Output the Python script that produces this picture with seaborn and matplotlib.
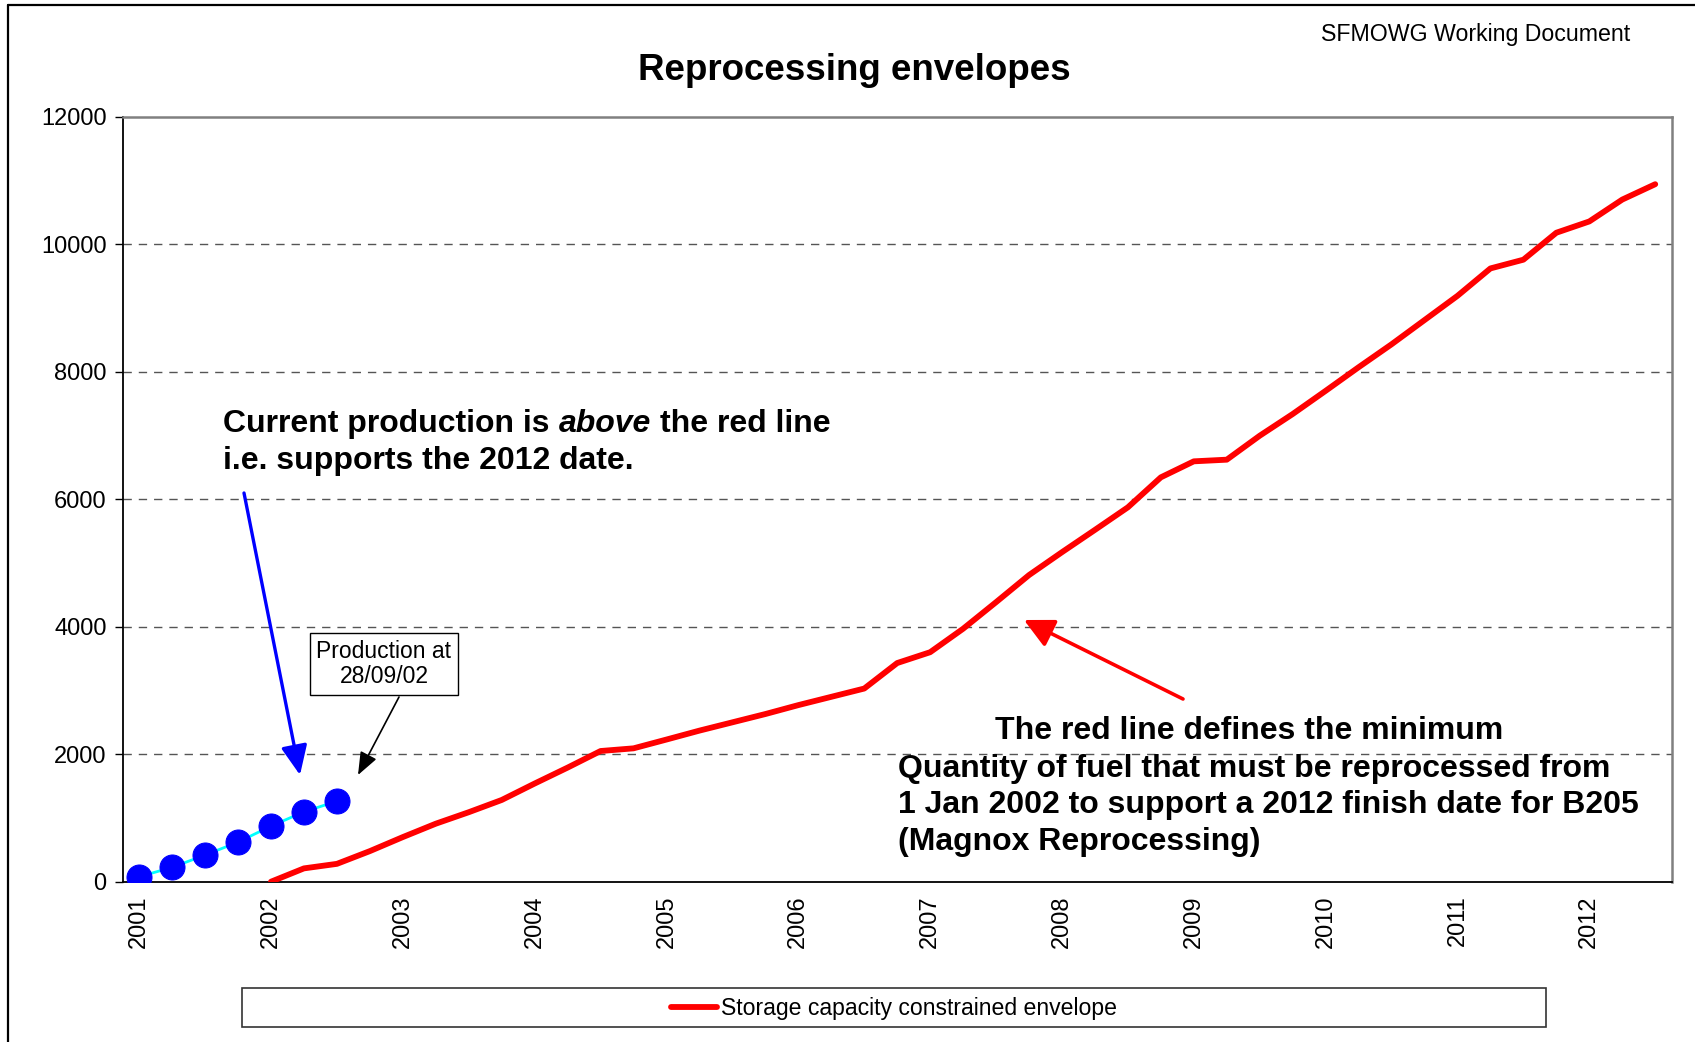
import matplotlib
matplotlib.use("Agg")
import matplotlib.pyplot as plt
import seaborn as sns
import pandas as pd
from matplotlib.lines import Line2D
from matplotlib.patches import Rectangle

# quarterly categories, 2001 Q1 .. 2012 Q3
years = list(range(2001, 2013))
quarter_names = ["Q1", "Q2", "Q3", "Q4"]
quarters = [f"{y} {q}" for y in years for q in quarter_names][:47]
year_labels = [str(y) for y in years]

# storage capacity constrained envelope (starts 2002 Q1)
envelope_start = "2002 Q1"
envelope = [0, 209, 280, 480, 700, 910, 1090, 1282, 1540, 1790,
            2050, 2092, 2230, 2370, 2500, 2630, 2770, 2900, 3030, 3430,
            3600, 3968, 4385, 4810, 5169, 5519, 5873, 6343, 6594, 6620,
            6996, 7336, 7700, 8070, 8430, 8810, 9190, 9620, 9757, 10180,
            10357, 10700, 10941]

# actual production up to 28/09/02
production_start = "2001 Q1"
production = [78, 225, 418, 621, 872, 1096, 1263]

W, H = 1695, 1042

sns.set_style("white")
plt.rcParams['font.family'] = ['Liberation Sans', 'DejaVu Sans']
plt.rcParams['text.color'] = 'black'
plt.rcParams['xtick.color'] = 'black'
plt.rcParams['ytick.color'] = 'black'
plt.rcParams['xtick.labelcolor'] = 'black'
plt.rcParams['ytick.labelcolor'] = 'black'

i0 = quarters.index(envelope_start)
env_df = pd.DataFrame({"pos": range(i0, i0 + len(envelope)), "value": envelope})
j0 = quarters.index(production_start)
prod_df = pd.DataFrame({"pos": range(j0, j0 + len(production)), "value": production})

fig = plt.figure(figsize=(W / 100, H / 100), dpi=100)
ax = fig.add_axes([122.7 / W, 1 - 881.7 / H, (1671.7 - 122.7) / W, (881.7 - 116.7) / H])

sns.lineplot(data=env_df, x="pos", y="value", ax=ax, color="#ff0000", linewidth=4.2,
             label="Storage capacity constrained envelope", legend=False, zorder=3,
             solid_capstyle="round")
sns.lineplot(data=prod_df, x="pos", y="value", ax=ax, color="#00ffff", linewidth=2,
             marker="o", markersize=18, markerfacecolor="#0000ff", markeredgecolor="#0000ff",
             legend=False, zorder=4)

ax.set_xlim(-0.5, len(quarters) - 0.5)
ax.set_ylim(0, 12000)
ax.set_yticks(range(0, 12001, 2000))
ax.set_yticklabels([str(v) for v in range(0, 12001, 2000)], fontsize=17)
label_pos = [quarters.index(f"{y} Q1") for y in years]
ax.set_xticks(label_pos)
ax.set_xticklabels(year_labels, rotation=90, fontsize=17)
ax.set_xticks([k - 0.5 for k in range(len(quarters) + 1)], minor=True)
ax.tick_params(axis="x", which="major", length=0, pad=10)
ax.tick_params(axis="x", which="minor", length=5, width=1, direction="out", color="black")
ax.tick_params(axis="y", length=5.5, width=1, direction="out", color="black", pad=6, left=True)
ax.set_xlabel("")
ax.set_ylabel("")

for v in range(2000, 12000, 2000):
    ax.axhline(v, color="#555555", linewidth=1, dashes=(6, 5), zorder=1)

for side in ["left", "bottom"]:
    ax.spines[side].set_color("black")
    ax.spines[side].set_linewidth(1.3)
for side in ["top", "right"]:
    ax.spines[side].set_color("#808080")
    ax.spines[side].set_linewidth(1.8)


def put(x, y, s, **kw):
    return fig.text(x / W, 1 - y / H, s, **kw)


put(854, 71, "Reprocessing envelopes", ha="center", va="center", fontsize=26.5, fontweight="bold")
put(1630, 34, "SFMOWG Working Document", ha="right", va="center", fontsize=16.7)

# blue annotation with italic word
renderer = fig.canvas.get_renderer()
big = 23
x = 223
gap = 0.28 * big * 100 / 72
for piece, style in [("Current production is", "normal"), ("above", "italic"), ("the red line", "normal")]:
    t = put(x, 424.5, piece, ha="left", va="center", fontsize=big, fontweight="bold", style=style)
    bb = t.get_window_extent(renderer)
    x = bb.x1 + gap
put(223, 461.5, "i.e. supports the 2012 date.", ha="left", va="center", fontsize=big, fontweight="bold")

# red annotation block
put(995, 731, "The red line defines the minimum", ha="left", va="center", fontsize=big, fontweight="bold")
put(898, 768.5, "Quantity of fuel that must be reprocessed from", ha="left", va="center",
    fontsize=big, fontweight="bold")
put(898, 805.5, "1 Jan 2002 to support a 2012 finish date for B205", ha="left", va="center",
    fontsize=big, fontweight="bold")
put(898, 842.3, "(Magnox Reprocessing)", ha="left", va="center", fontsize=big, fontweight="bold")

put(384, 664, "Production at\n28/09/02", ha="center", va="center", fontsize=16.5, linespacing=1.15,
    bbox=dict(boxstyle="square,pad=0.3", facecolor="white", edgecolor="black", linewidth=1))


def arrow(x0, y0, x1, y1, color, lw, hl, hw):
    ax.annotate("", xy=(x1, H - y1), xycoords="figure pixels",
                xytext=(x0, H - y0), textcoords="figure pixels",
                arrowprops=dict(arrowstyle=f"-|>,head_length={hl},head_width={hw}",
                                color=color, lw=lw, shrinkA=0, shrinkB=0, mutation_scale=10),
                annotation_clip=False)


arrow(244, 493, 300, 775, "#0000ff", 2.4, 1.8, 0.8)
arrow(399, 697, 358, 775, "black", 1.2, 1.4, 0.55)
arrow(1183, 699, 1024, 620, "#ff0000", 2.6, 1.8, 0.9)

# legend in a box below the plot
fig.add_artist(Rectangle((242 / W, 1 - 1027 / H), (1546 - 242) / W, (1027 - 988) / H,
                         transform=fig.transFigure, facecolor="white", edgecolor="#333333",
                         linewidth=1.2))
fig.legend(handles=[ax.get_lines()[0]], loc="center", bbox_to_anchor=(894 / W, 1 - 1009 / H),
           frameon=False, fontsize=16.6, handlelength=2.0, handletextpad=0.2)

# outer document frame
fig.add_artist(Line2D([8 / W, 1], [1 - 5 / H, 1 - 5 / H], transform=fig.transFigure,
                      color="black", linewidth=1.6))
fig.add_artist(Line2D([8 / W, 8 / W], [0, 1 - 5 / H], transform=fig.transFigure,
                      color="black", linewidth=1.6))

fig.savefig("out.png", dpi=100, facecolor="white")
